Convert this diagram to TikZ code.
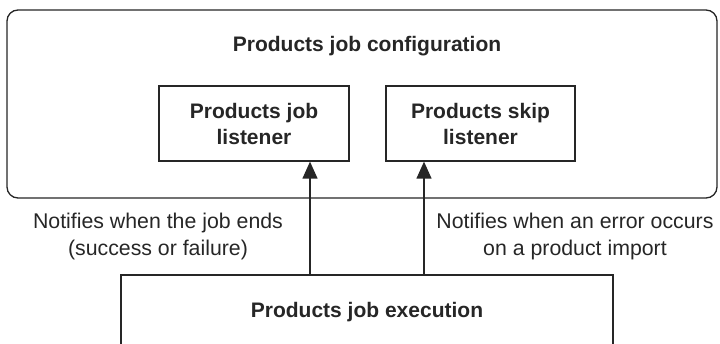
\documentclass[tikz,border=0pt]{standalone}
\usepackage{fontspec}
\setmainfont{Liberation Sans}
\usetikzlibrary{arrows.meta}
\definecolor{ink}{HTML}{262626}
\tikzset{
  box/.style={draw=ink, line width=1.3pt, fill=white},
  bold/.style={font=\fontsize{21}{26}\selectfont\bfseries, text=ink, align=center},
  plain/.style={font=\fontsize{21.3}{27}\selectfont, text=ink, align=center},
  arr/.style={draw=ink, line width=1.3pt, -{Triangle[length=17pt,width=15pt]}}
}
\begin{document}
\begin{tikzpicture}[x=1pt,y=-1pt]
\useasboundingbox (0,0) rectangle (720,344);
\clip (0,0) rectangle (720,344);
\draw[box, rounded corners=11pt] (7,10) rectangle (717,198);
\node[bold] (title) at (367,46) {Products job configuration};
\node[box, minimum width=190pt, minimum height=75pt, inner sep=0pt] (jl) at (254,123.5) {};
\node[bold] at (jl.center) {Products job\\listener};
\node[box, minimum width=189pt, minimum height=75pt, inner sep=0pt] (sl) at (480.5,123.5) {};
\node[bold] at (sl.center) {Products skip\\listener};
\draw[box] (121,360) -- (121,275) -- (613,275) -- (613,360);
\node[bold] (exec) at (367,312) {Products job execution};
\coordinate (a1) at (310,275);
\coordinate (a2) at (424,275);
\draw[arr] (a1) -- (a1 |- jl.south);
\draw[arr] (a2) -- (a2 |- sl.south);
\node[plain] (l1) at (158,236.5) {Notifies when the job ends\\(success or failure)};
\node[plain] (l2) at (575,236.5) {Notifies when an error occurs\\on a product import};
\end{tikzpicture}
\end{document}
